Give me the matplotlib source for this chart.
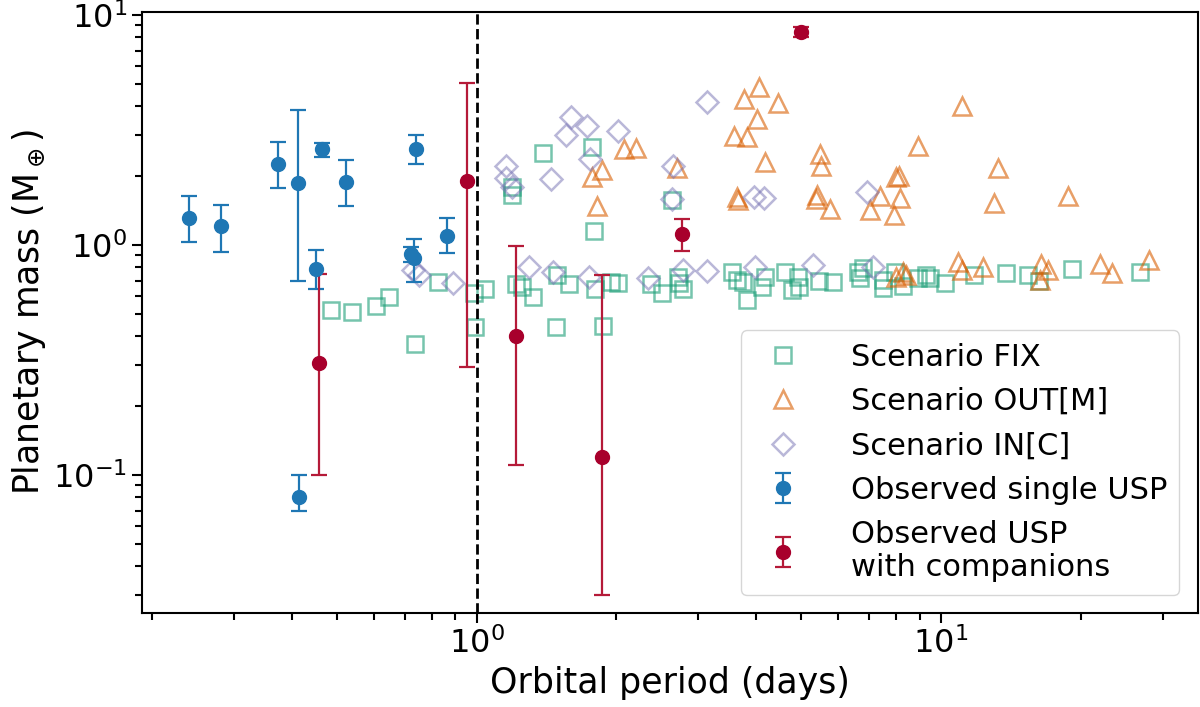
import matplotlib
matplotlib.use("Agg")
import matplotlib.pyplot as plt
import numpy as np

# Scenario FIX (squares)
fix_p = [0.486, 0.538, 0.607, 0.648, 0.738, 0.825, 0.988, 1.042, 0.992,
         1.195, 1.195, 1.387, 1.777, 2.63, 1.79,
         1.215, 1.25, 1.32, 1.487, 1.58, 1.80, 1.943, 2.02, 2.38, 2.51, 2.72, 2.73, 2.79,
         1.484, 1.873,
         3.54, 3.63, 3.75, 3.83, 4.11, 4.18, 4.61, 4.77, 4.95, 4.92, 5.47, 5.86,
         6.63, 6.80, 6.69, 7.50, 7.50, 7.95, 8.29, 8.93, 9.46, 9.3, 10.19, 11.77,
         13.84, 15.40, 16.27, 19.19, 26.8]
fix_m = [0.522, 0.51, 0.541, 0.592, 0.370, 0.69, 0.62, 0.646, 0.441,
         1.79, 1.65, 2.50, 2.66, 1.57, 1.154,
         0.677, 0.655, 0.592, 0.741, 0.677, 0.642, 0.692, 0.686, 0.677, 0.62, 0.728, 0.686, 0.642,
         0.441, 0.444,
         0.766, 0.705, 0.692, 0.577, 0.659, 0.723, 0.766, 0.637, 0.659, 0.723, 0.70, 0.692,
         0.766, 0.792, 0.717, 0.705, 0.648, 0.766, 0.663, 0.717, 0.717, 0.74, 0.686, 0.741,
         0.753, 0.741, 0.70, 0.784, 0.766]

# Scenario OUT[M] (triangles)
out_p = [1.774, 1.86, 1.813, 2.08, 2.21, 2.70, 3.76, 4.06, 4.46, 4.02, 3.58, 3.83,
         4.18, 3.64, 3.65, 5.50, 5.53, 5.42, 5.38, 5.78, 7.03, 7.41, 8.02,
         11.12, 8.93, 8.12, 13.3, 8.15, 7.91, 13.0, 18.8,
         8.29, 8.4, 10.89, 11.12, 12.29, 16.46, 17.0, 16.37, 22.05, 23.4, 28.0, 8.02]
out_m = [1.97, 2.12, 1.47, 2.61, 2.63, 2.16, 4.30, 4.85, 4.13, 3.52, 2.98, 2.94,
         2.30, 1.62, 1.57, 2.49, 2.21, 1.65, 1.58, 1.44, 1.42, 1.63, 1.98,
         4.03, 2.68, 2.0, 2.16, 1.60, 1.35, 1.52, 1.64,
         0.766, 0.74, 0.846, 0.779, 0.80, 0.827, 0.779, 0.705, 0.827, 0.753, 0.86, 0.728]

# Scenario IN[C] (diamonds)
in_p = [0.730, 0.752, 0.890, 1.16, 1.157, 1.19, 1.445, 1.594, 1.56, 1.733, 2.02, 1.753,
        2.65, 2.63, 3.13, 3.95, 4.15, 6.93,
        1.30, 1.46, 1.748, 2.34, 2.79, 3.13, 3.97, 5.29, 7.14]
in_m = [0.779, 0.741, 0.681, 2.21, 1.95, 1.79, 1.93, 3.59, 3.01, 3.29, 3.14, 2.36,
        2.21, 1.58, 4.17, 1.62, 1.60, 1.70,
        0.80, 0.766, 0.723, 0.717, 0.779, 0.773, 0.80, 0.819, 0.80]

# Observed single USP
single_p = [0.240, 0.2814, 0.373, 0.412, 0.465, 0.523, 0.452, 0.741, 0.724, 0.733, 0.863, 0.414]
single_m = [1.306, 1.21, 2.26, 1.85, 2.61, 1.87, 0.787, 2.61, 0.911, 0.881, 1.098, 0.080]
single_hi = [1.63, 1.49, 2.80, 3.88, 2.78, 2.34, 0.948, 3.0, 0.983, 1.059, 1.306, 0.100]
single_lo = [1.03, 0.935, 1.76, 0.695, 2.42, 1.48, 0.646, 2.26, 0.841, 0.693, 0.923, 0.070]

# Observed USP with companions
comp_p = [0.457, 0.952, 1.217, 1.864, 2.77, 4.99]
comp_m = [0.308, 1.90, 0.40, 0.120, 1.116, 8.46]
comp_hi = [0.75, 5.08, 0.99, 0.74, 1.293, 8.85]
comp_lo = [0.10, 0.296, 0.1105, 0.030, 0.939, 8.05]

fig = plt.figure(figsize=(12, 7.07), dpi=100)
ax = fig.add_axes([0.118, 0.133, 0.880, 0.850])

ax.plot(fix_p, fix_m, ls='none', marker='s', ms=12, mfc='none', mec='#1b9e77',
        mew=1.8, alpha=0.6, label='Scenario FIX')
ax.plot(out_p, out_m, ls='none', marker='^', ms=13, mfc='none', mec='#d95f02',
        mew=1.8, alpha=0.6, label='Scenario OUT[M]')
ax.plot(in_p, in_m, ls='none', marker='D', ms=11, mfc='none', mec='#7570b3',
        mew=1.8, alpha=0.5, label='Scenario IN[C]')

sm = np.array(single_m)
ax.errorbar(single_p, single_m, yerr=[sm - np.array(single_lo), np.array(single_hi) - sm],
            fmt='o', color='#1f77b4', ms=10, capsize=6, elinewidth=1.6, capthick=1.6,
            label='Observed single USP')
cm = np.array(comp_m)
ax.errorbar(comp_p, comp_m, yerr=[cm - np.array(comp_lo), np.array(comp_hi) - cm],
            fmt='o', color='#a8002c', ecolor='#b51a38', ms=10, capsize=6,
            elinewidth=1.6, capthick=1.6,
            label='Observed USP\nwith companions')

ax.axvline(1.0, color='black', ls='--', lw=2)

ax.set_xscale('log')
ax.set_yscale('log')
ax.set_xlim(0.19, 35.7)
ax.set_ylim(0.0251, 10.3)

ax.set_xlabel('Orbital period (days)', fontsize=25)
ax.set_ylabel(r'Planetary mass (M$_\oplus$)', fontsize=25)
ax.tick_params(which='major', labelsize=23, length=7, width=1.5)
ax.tick_params(which='minor', length=5, width=1.5)
for s in ax.spines.values():
    s.set_linewidth(1.5)

ax.legend(loc='lower right', fontsize=22, borderaxespad=0.6, handletextpad=1.2)

fig.savefig('out.png', dpi=100)
